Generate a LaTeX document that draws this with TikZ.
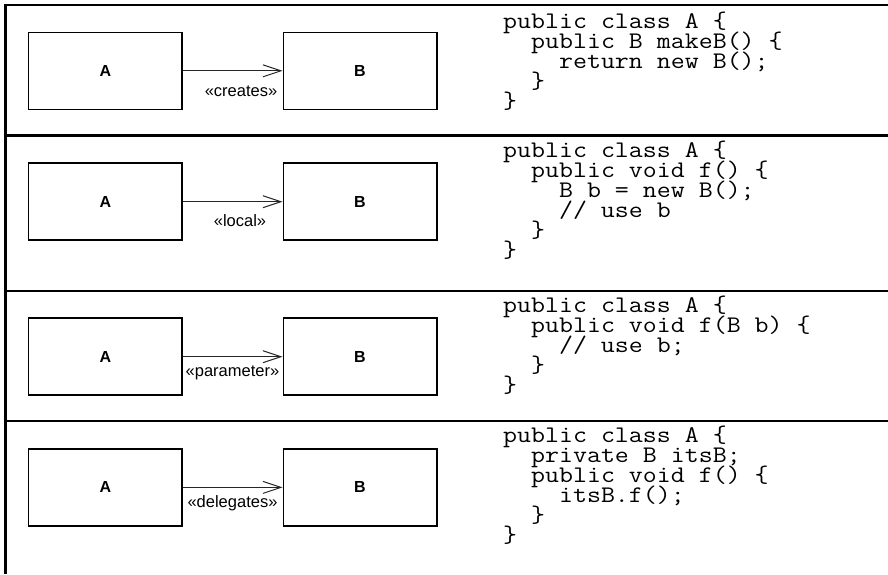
\documentclass[tikz,border=0pt]{standalone}
\usepackage{fontspec}
\newfontfamily\sansf{Liberation Sans}
\newfontfamily\codef[FakeStretch=1.14]{Latin Modern Mono}
\usetikzlibrary{arrows.meta}
\newcommand\ind{\phantom{xx}}
\newcommand\codeblock[1]{\parbox[t]{380pt}{\lineskiplimit=-50pt\raggedright #1}}
\begin{document}
\begin{tikzpicture}[x=1pt,y=-1pt,
  frame/.style={line width=2.6pt},
  cls/.style={draw, line width=1.5pt, minimum width=153.5pt, minimum height=77pt, inner sep=0pt,
    font=\sansf\bfseries\fontsize{16}{18}\selectfont},
  dep/.style={line width=1pt, draw=black!85, -{Straight Barb[length=18pt,width=12pt,line width=1pt]}},
  lbl/.style={inner sep=0pt, anchor=base, font=\sansf\fontsize{16.5}{19}\selectfont},
  code/.style={anchor=base west, inner sep=0pt, font=\codef\fontsize{23.8}{20}\selectfont}]
\useasboundingbox (0,0) rectangle (888,574);

% frame
\draw[frame] (5.3,574) -- (5.3,4);
\draw[frame] (4,5) -- (888,5);
\draw[frame] (4,135.5) -- (888,135.5);
\draw[frame] (4,291) -- (888,291);
\draw[frame] (4,421) -- (888,421);

% row 1
\node[cls] (a1) at (105.3,70.8) {A};
\node[cls] (b1) at (360,70.8) {B};
\draw[dep] (a1) -- (b1);
\node[lbl] (l1) at (241,96) {«creates»};
\node[code] (c1) at (503,28) {\codeblock{public class A \{\\
\ind public B makeB() \{\\
\ind\ind return new B();\\
\ind \}\\
\}}};

% row 2
\node[cls] (a2) at (105.3,201.7) {A};
\node[cls] (b2) at (360,201.7) {B};
\draw[dep] (a2) -- (b2);
\node[lbl] (l2) at (240,226) {«local»};
\node[code] (c2) at (503,157) {\codeblock{public class A \{\\
\ind public void f() \{\\
\ind\ind B b = new B();\\
\ind\ind // use b\\
\ind \}\\
\}}};

% row 3
\node[cls] (a3) at (105.3,356.7) {A};
\node[cls] (b3) at (360,356.7) {B};
\draw[dep] (a3) -- (b3);
\node[lbl] (l3) at (232.5,376) {«parameter»};
\node[code] (c3) at (503,312) {\codeblock{public class A \{\\
\ind public void f(B b) \{\\
\ind\ind // use b;\\
\ind \}\\
\}}};

% row 4
\node[cls] (a4) at (105.3,487.4) {A};
\node[cls] (b4) at (360,487.4) {B};
\draw[dep] (a4) -- (b4);
\node[lbl] (l4) at (232.5,507.3) {«delegates»};
\node[code] (c4) at (503,442) {\codeblock{public class A \{\\
\ind private B itsB;\\
\ind public void f() \{\\
\ind\ind itsB.f();\\
\ind \}\\
\}}};
\end{tikzpicture}
\end{document}
